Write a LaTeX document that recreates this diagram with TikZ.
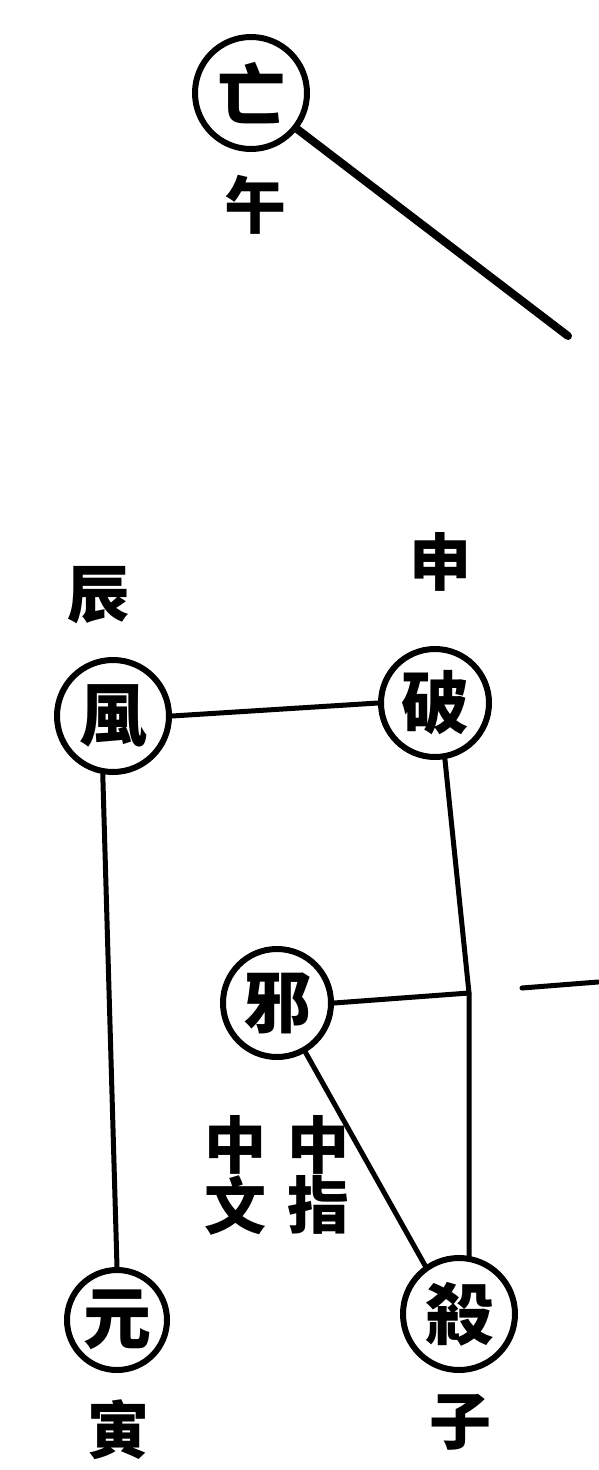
\documentclass[tikz,border=0pt]{standalone}
\usepackage{fontspec}
\newfontfamily\cjk{Noto Sans CJK TC}[BoldFont={Noto Sans CJK TC Black}]
\begin{document}
\begin{tikzpicture}[x=1pt,y=-1pt,
  ring/.style={circle,draw,line width=6pt,minimum size=#1,inner sep=-8pt,font=\cjk\bfseries\fontsize{68}{68}\selectfont},
  lbl/.style={inner sep=0pt,font=\cjk\bfseries\fontsize{62}{62}\selectfont},
  link/.style={line width=5pt,line cap=round}]
\useasboundingbox (0,0) rectangle (599,1470);
\node[ring=112pt] (wang) at (251,93) {亡};
\node[lbl] (wu) at (255,205) {午};
\coordinate (diagend) at (568,336);
\node[lbl] (chen) at (98,595) {辰};
\node[lbl] (shen) at (440,562) {申};
\node[ring=112pt] (feng) at (113,716) {風};
\node[ring=108pt] (po) at (435,703) {破};
\node[ring=108pt] (xie) at (277,1003) {邪};
\node[ring=100pt] (yuan) at (117,1320) {元};
\node[ring=112pt] (sha) at (459,1314) {殺};
\node[lbl] (yin) at (118,1430) {寅};
\node[lbl] (zi) at (460,1422) {子};
\node[lbl] (z1) at (235,1145) {中};
\node[lbl] (w1) at (235,1205) {文};
\node[lbl] (z2) at (318,1145) {中};
\node[lbl] (w2) at (318,1205) {指};
\coordinate (cross) at (469,993);
\coordinate (tailA) at (522,988);
\coordinate (tailB) at (598,982);
\draw[line width=8pt,line cap=round] (wang.-38) -- (diagend);
\draw[link] (feng.east) -- (po.west);
\draw[link] (feng.-100) -- (yuan.north);
\draw[link] (po.-80) -- (cross) -- (sha.80);
\draw[link] (xie.east) -- (cross);
\draw[link] (xie.-60) -- (sha.125);
\draw[link] (tailA) -- (tailB);
\end{tikzpicture}
\end{document}
